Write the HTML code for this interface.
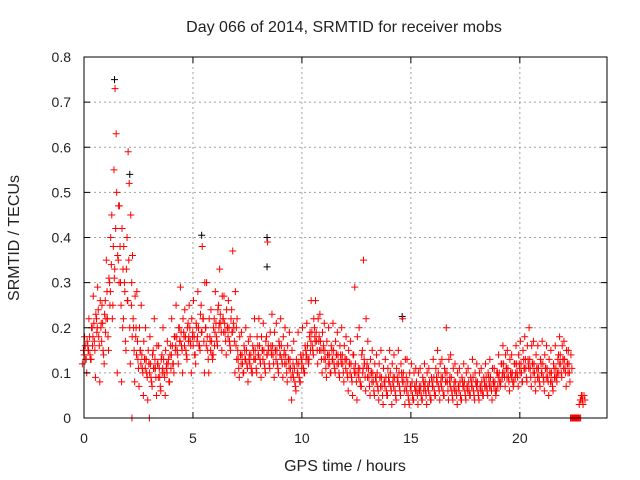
<!DOCTYPE html>
<html><head><meta charset="utf-8"><style>
body{margin:0;background:#fff}
svg{display:block;font-family:"Liberation Sans",sans-serif}
</style></head><body>
<svg id="c" width="640" height="480"></svg>
<script>
const xTicks=[0,5,10,15,20];
const yTicks=[0,0.1,0.2,0.3,0.4,0.5,0.6,0.7,0.8];
const slotStart=0, slotStep=0.2;
const slotValues=[
[.12,.15,.18,.13],[.10,.16,.22,.14],[.13,.20,.27,.17],[.09,.22,.29,.18],[.08,.20,.25,.15],
[.12,.26,.35,.22],[.15,.30,.40,.45],[.25,.55,.73,.63],[.10,.35,.47,.30],[.08,.20,.38,.28],
[.15,.40,.59,.52],[.12,.25,.36,.20],[.08,.18,.28,.13],[.07,.15,.25,.11],[.05,.13,.20,.10],
[.04,.12,.18,.09],[.07,.15,.22,.11],[.05,.12,.16,.09],[.06,.14,.20,.10],[.05,.11,.17,.13],
[.08,.16,.22,.12],[.10,.18,.25,.15],[.12,.20,.29,.16],[.10,.19,.24,.15],[.13,.21,.25,.17],
[.10,.18,.26,.14],[.12,.20,.28,.16],[.15,.25,.38,.22],[.10,.20,.30,.15],[.10,.18,.24,.14],
[.14,.22,.28,.18],[.16,.25,.33,.21],[.15,.22,.27,.19],[.14,.20,.26,.17],[.15,.24,.37,.20],
[.10,.16,.22,.13],[.09,.14,.19,.12],[.10,.15,.20,.12],[.08,.13,.18,.11],[.10,.15,.22,.13],
[.10,.16,.22,.13],[.09,.15,.21,.12],[.10,.18,.39,.15],[.11,.16,.23,.14],[.09,.15,.21,.12],
[.10,.16,.22,.13],[.09,.14,.20,.12],[.08,.13,.19,.11],[.04,.10,.17,.08],[.06,.12,.19,.09],
[.08,.13,.20,.11],[.10,.15,.21,.13],[.13,.19,.26,.16],[.14,.20,.26,.17],[.12,.17,.23,.15],
[.10,.15,.21,.13],[.09,.14,.20,.12],[.10,.15,.21,.12],[.10,.14,.19,.12],[.09,.14,.20,.12],
[.08,.13,.18,.10],[.06,.12,.17,.09],[.05,.14,.29,.10],[.04,.10,.20,.08],[.07,.15,.35,.12],
[.06,.11,.17,.09],[.05,.10,.15,.08],[.05,.09,.14,.07],[.04,.09,.15,.07],[.03,.08,.13,.06],
[.05,.09,.15,.07],[.03,.08,.14,.06],[.04,.09,.15,.07],[.05,.10,.22,.08],[.03,.07,.13,.05],
[.03,.07,.12,.05],[.04,.07,.11,.06],[.03,.06,.11,.05],[.04,.08,.12,.06],[.03,.07,.11,.05],
[.04,.08,.13,.06],[.05,.09,.15,.07],[.04,.08,.13,.06],[.05,.10,.20,.08],[.04,.08,.14,.06],
[.04,.07,.12,.06],[.03,.07,.11,.05],[.04,.08,.12,.06],[.04,.07,.11,.06],[.05,.08,.13,.06],
[.04,.08,.12,.06],[.04,.07,.11,.06],[.05,.08,.12,.07],[.05,.09,.13,.07],[.04,.08,.11,.06],
[.06,.10,.14,.08],[.08,.12,.16,.10],[.07,.11,.15,.09],[.06,.10,.14,.08],[.08,.12,.16,.10],
[.07,.12,.17,.10],[.08,.13,.18,.11],[.08,.13,.20,.11],[.07,.12,.17,.10],[.06,.11,.16,.09],
[.07,.12,.17,.09],[.06,.11,.16,.09],[.05,.10,.15,.08],[.06,.11,.16,.09],[.10,.14,.18,.12],
[.09,.13,.17,.11],[.07,.12,.15,.10],[0,0,0,0],[0,0,0,0],[.03,.04,.05,.04]
];
const slotValues2=[
[.14,.16,.13,.17,.15],[.15,.18,.13,.20,.16],[.18,.21,.15,.23,.19],[.20,.24,.16,.26,.21],[.17,.21,.14,.23,.19],
[.22,.28,.18,.31,.25],[.28,.34,.22,.38,.31],[.33,.42,.50,.36,.47],[.30,.38,.25,.42,.33],[.22,.30,.17,.33,.26],
[.26,.35,.20,.45,.30],[.18,.22,.15,.27,.20],[.14,.17,.11,.20,.15],[.12,.14,.10,.17,.13],[.11,.13,.09,.15,.12],
[.10,.12,.08,.14,.11],[.11,.13,.09,.16,.12],[.09,.11,.07,.13,.10],[.11,.13,.09,.15,.12],[.10,.12,.08,.14,.11],
[.14,.16,.12,.18,.15],[.16,.18,.14,.20,.17],[.17,.19,.15,.22,.18],[.16,.18,.14,.20,.17],[.18,.20,.16,.22,.19],
[.16,.18,.14,.21,.17],[.18,.20,.16,.23,.19],[.19,.22,.17,.30,.20],[.16,.18,.13,.22,.17],[.15,.17,.13,.20,.16],
[.19,.21,.17,.24,.20],[.21,.23,.19,.27,.22],[.19,.21,.17,.24,.20],[.18,.20,.16,.22,.19],[.19,.21,.17,.28,.20],
[.13,.15,.11,.18,.14],[.12,.14,.10,.16,.13],[.13,.15,.11,.17,.14],[.12,.14,.10,.16,.13],[.13,.15,.11,.18,.14],
[.14,.16,.12,.18,.15],[.13,.15,.11,.17,.14],[.14,.16,.12,.19,.15],[.14,.16,.12,.19,.15],[.13,.15,.11,.17,.14],
[.14,.16,.12,.18,.15],[.12,.14,.10,.16,.13],[.11,.13,.09,.15,.12],[.09,.11,.07,.13,.10],[.10,.12,.08,.14,.11],
[.12,.14,.10,.16,.13],[.14,.16,.12,.18,.15],[.17,.19,.15,.22,.18],[.17,.19,.15,.22,.18],[.15,.17,.13,.19,.16],
[.13,.15,.11,.17,.14],[.12,.14,.10,.16,.13],[.13,.15,.11,.17,.14],[.12,.14,.10,.16,.13],[.12,.14,.10,.16,.13],
[.11,.13,.09,.15,.12],[.10,.12,.08,.14,.11],[.10,.12,.08,.18,.11],[.09,.11,.07,.14,.10],[.11,.13,.09,.22,.12],
[.09,.11,.07,.13,.10],[.08,.10,.06,.12,.09],[.08,.10,.06,.12,.09],[.07,.09,.05,.11,.08],[.07,.09,.05,.11,.08],
[.08,.10,.06,.12,.09],[.07,.09,.05,.11,.08],[.08,.10,.06,.12,.09],[.08,.10,.06,.13,.09],[.06,.08,.04,.10,.07],
[.06,.08,.04,.10,.07],[.06,.08,.05,.10,.07],[.06,.07,.04,.09,.06],[.07,.08,.05,.10,.07],[.06,.08,.04,.09,.07],
[.07,.09,.05,.11,.08],[.08,.10,.06,.12,.09],[.07,.09,.05,.11,.08],[.08,.10,.06,.13,.09],[.07,.09,.05,.11,.08],
[.06,.08,.05,.10,.07],[.06,.08,.04,.09,.07],[.07,.08,.05,.10,.07],[.06,.08,.05,.09,.07],[.07,.09,.05,.10,.08],
[.07,.08,.05,.10,.07],[.06,.08,.05,.09,.07],[.07,.09,.06,.10,.08],[.07,.09,.06,.11,.08],[.07,.08,.05,.10,.07],
[.09,.10,.07,.12,.09],[.10,.12,.09,.14,.11],[.09,.11,.08,.13,.10],[.09,.10,.07,.12,.09],[.10,.12,.09,.14,.11],
[.10,.12,.08,.15,.11],[.11,.13,.09,.16,.12],[.11,.13,.09,.16,.12],[.10,.12,.08,.14,.11],[.09,.11,.08,.13,.10],
[.10,.12,.08,.14,.11],[.09,.11,.08,.13,.10],[.08,.10,.07,.12,.09],[.09,.11,.08,.13,.10],[.12,.14,.10,.16,.13],
[.11,.13,.10,.15,.12],[.10,.12,.08,.14,.11],[0,0,0,0,0],[0,0,0,0,0],[.04,.05,.03,.05,.04]
];
const extraTimes=[2.2,3.0];
const extraValues=[0,0];
const blackTimes=[1.4,2.1,5.4,8.4,8.4,14.6];
const blackValues=[.75,.54,.405,.4,.335,.225];

const L=84,R=607,T=57,B=418;
const X=v=>L+(v/24)*(R-L);
const Y=v=>B-(v/0.8)*(B-T);
const svg=document.getElementById('c');
const NS='http://www.w3.org/2000/svg';
function mk(tag,attrs,parent){const e=document.createElementNS(NS,tag);for(const k in attrs)e.setAttribute(k,attrs[k]);(parent||svg).appendChild(e);return e;}

const grid=mk('g',{});


xTicks.forEach(t=>{if(t>0)mk('line',{x1:X(t),x2:X(t),y1:T,y2:B,stroke:'#a0a0a0','stroke-dasharray':'2,3'},grid);});
yTicks.forEach(t=>{if(t>0&&t<0.8)mk('line',{x1:L,x2:R,y1:Y(t),y2:Y(t),stroke:'#a0a0a0','stroke-dasharray':'2,3'},grid);});

function plus(x,y,col,g){mk('path',{d:`M${x-3.5},${y}h7M${x},${y-3.5}v7`,stroke:col,'stroke-width':1,fill:'none'},g);}
const bg=mk('g',{});


blackTimes.forEach((t,i)=>plus(X(t),Y(blackValues[i]),'#000',bg));
const rg=mk('g',{});


const offs=[-0.075,-0.025,0.025,0.075];
const offs2=[-0.09,-0.045,0,0.045,0.09];
slotValues.forEach((vals,i)=>{const t=slotStart+i*slotStep;vals.forEach((v,j)=>plus(X(t+offs[j]),Y(v),'#f00',rg));});
slotValues2.forEach((vals,i)=>{const t=slotStart+i*slotStep+0.1;vals.forEach((v,j)=>plus(X(t+offs2[j]),Y(v),'#f00',rg));});
extraTimes.forEach((t,i)=>plus(X(t),Y(extraValues[i]),'#f00',rg));

const ax=mk('g',{});


mk('rect',{x:L,y:T,width:R-L,height:B-T,fill:'none',stroke:'#000'},ax);
xTicks.forEach(t=>{mk('line',{x1:X(t),x2:X(t),y1:B,y2:B-6,stroke:'#000'},ax);mk('line',{x1:X(t),x2:X(t),y1:T,y2:T+6,stroke:'#000'},ax);
 const tx=mk('text',{x:X(t),y:B+25,'text-anchor':'middle','font-size':14,fill:'#222'},ax);tx.textContent=t;});
yTicks.forEach(t=>{mk('line',{x1:L,x2:L+6,y1:Y(t),y2:Y(t),stroke:'#000'},ax);mk('line',{x1:R,x2:R-6,y1:Y(t),y2:Y(t),stroke:'#000'},ax);
 const tx=mk('text',{x:L-13,y:Y(t)+5,'text-anchor':'end','font-size':14,fill:'#222'},ax);tx.textContent=t===0?'0':t.toFixed(1);});
const title=mk('text',{x:344,y:32,'text-anchor':'middle','font-size':16,fill:'#222'});


title.textContent='Day 066 of 2014, SRMTID for receiver mobs';
const xl=mk('text',{x:345,y:471,'text-anchor':'middle','font-size':16,fill:'#222'});


xl.textContent='GPS time / hours';
const yl=mk('text',{x:0,y:0,'text-anchor':'middle','font-size':16,fill:'#222',transform:'translate(19,238) rotate(-90)'});


yl.textContent='SRMTID / TECUs';
</script>
</body></html>
